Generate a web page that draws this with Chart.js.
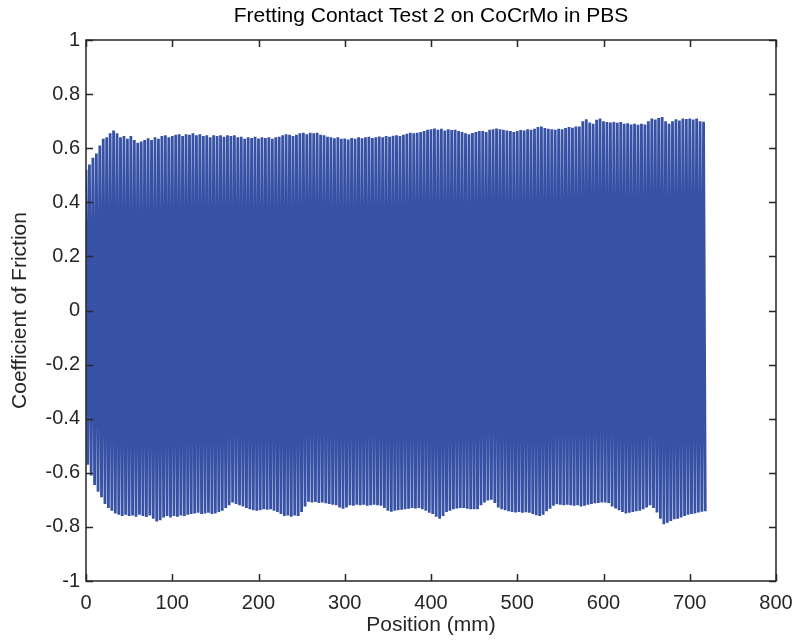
<!DOCTYPE html>
<html>
<head>
<meta charset="utf-8">
<title>Fretting Contact Test 2 on CoCrMo in PBS</title>
<script src="https://cdn.jsdelivr.net/npm/chart.js@4.4.1/dist/chart.umd.min.js"></script>
<style>
    html, body { margin: 0; padding: 0; background: #fff; }
    #wrap { width: 795px; height: 643px; }
</style>
</head>
<body>
<div id="wrap"><canvas id="frictionChart" width="795" height="643"></canvas></div>
<script>
// Position step between two reversals (mm) - peak at 4i, trough at 4i + 2
const cycleLength = 4;

// Peak (positive) friction coefficient for each cycle
const peakValues = [
    0.52, 0.54, 0.565, 0.58, 0.61, 0.635, 0.64, 0.655, 0.665, 0.655,
    0.64, 0.645, 0.635, 0.645, 0.63, 0.62, 0.625, 0.63, 0.637, 0.63,
    0.64, 0.635, 0.645, 0.648, 0.64, 0.645, 0.65, 0.652, 0.645, 0.652,
    0.65, 0.655, 0.648, 0.652, 0.645, 0.648, 0.64, 0.648, 0.645, 0.648,
    0.642, 0.648, 0.645, 0.648, 0.64, 0.642, 0.635, 0.64, 0.638, 0.642,
    0.636, 0.64, 0.638, 0.64, 0.635, 0.64, 0.642, 0.648, 0.652, 0.65,
    0.645, 0.65, 0.655, 0.657, 0.652, 0.657, 0.655, 0.657, 0.65, 0.648,
    0.642, 0.64, 0.637, 0.64, 0.635, 0.636, 0.632, 0.638, 0.635, 0.64,
    0.637, 0.64, 0.642, 0.638, 0.64, 0.643, 0.64, 0.645, 0.642, 0.646,
    0.648, 0.645, 0.65, 0.653, 0.657, 0.655, 0.657, 0.66, 0.664, 0.668,
    0.67, 0.673, 0.668, 0.672, 0.665, 0.67, 0.667, 0.668, 0.664, 0.66,
    0.655, 0.652, 0.656, 0.66, 0.664, 0.664, 0.66, 0.668, 0.67, 0.673,
    0.67, 0.668, 0.665, 0.664, 0.66, 0.664, 0.667, 0.665, 0.67, 0.668,
    0.672, 0.678, 0.68, 0.675, 0.672, 0.67, 0.668, 0.672, 0.67, 0.675,
    0.678, 0.676, 0.68, 0.68, 0.7, 0.707, 0.695, 0.69, 0.705, 0.71,
    0.7, 0.697, 0.695, 0.697, 0.694, 0.697, 0.69, 0.692, 0.688, 0.69,
    0.687, 0.69, 0.688, 0.7, 0.71, 0.706, 0.712, 0.715, 0.7, 0.69,
    0.7, 0.707, 0.702, 0.71, 0.708, 0.71, 0.706, 0.71, 0.7, 0.698
];

// Trough (negative) friction coefficient for each cycle
const troughValues = [
    -0.57, -0.61, -0.645, -0.67, -0.69, -0.715, -0.73, -0.74, -0.75, -0.755,
    -0.76, -0.755, -0.76, -0.758, -0.762, -0.755, -0.76, -0.763, -0.758, -0.77,
    -0.78, -0.775, -0.765, -0.76, -0.765, -0.76, -0.762, -0.758, -0.76, -0.755,
    -0.752, -0.75, -0.748, -0.752, -0.75, -0.748, -0.752, -0.75, -0.745, -0.74,
    -0.73, -0.72, -0.71, -0.715, -0.72, -0.725, -0.73, -0.735, -0.738, -0.74,
    -0.738, -0.735, -0.737, -0.735, -0.74, -0.745, -0.752, -0.76, -0.758, -0.762,
    -0.758, -0.76, -0.745, -0.725, -0.707, -0.71, -0.708, -0.712, -0.71, -0.713,
    -0.715, -0.718, -0.72, -0.728, -0.733, -0.728, -0.72, -0.722, -0.718, -0.72,
    -0.718, -0.722, -0.72, -0.718, -0.72, -0.722, -0.73, -0.74, -0.744, -0.74,
    -0.738, -0.737, -0.735, -0.733, -0.73, -0.732, -0.73, -0.735, -0.74, -0.748,
    -0.752, -0.762, -0.77, -0.76, -0.745, -0.74, -0.735, -0.732, -0.73, -0.73,
    -0.733, -0.735, -0.735, -0.735, -0.72, -0.71, -0.702, -0.7, -0.712, -0.728,
    -0.735, -0.738, -0.742, -0.745, -0.747, -0.745, -0.748, -0.746, -0.748, -0.752,
    -0.757, -0.76, -0.755, -0.742, -0.733, -0.722, -0.716, -0.718, -0.72, -0.718,
    -0.72, -0.722, -0.72, -0.725, -0.722, -0.718, -0.715, -0.713, -0.712, -0.71,
    -0.71, -0.712, -0.725, -0.732, -0.738, -0.745, -0.75, -0.748, -0.745, -0.742,
    -0.74, -0.735, -0.728, -0.72, -0.73, -0.747, -0.77, -0.79, -0.785, -0.778,
    -0.772, -0.77, -0.765, -0.76, -0.755, -0.752, -0.75, -0.747, -0.744, -0.742
];

// Axis ticks
const xTickValues = [0, 100, 200, 300, 400, 500, 600, 700, 800];
const yTickValues = [-1, -0.8, -0.6, -0.4, -0.2, 0, 0.2, 0.4, 0.6, 0.8, 1];
const yTickLabels = ['-1', '-0.8', '-0.6', '-0.4', '-0.2', '0', '0.2', '0.4', '0.6', '0.8', '1'];

const chartTitle = 'Fretting Contact Test 2 on CoCrMo in PBS';
const axisColor = '#262626';
const lineColor = 'rgb(55, 82, 165)';
const fontFamily = "'Liberation Sans', Arial, Helvetica, sans-serif";

// Build the zig-zag trace: one peak then one trough per cycle
const tracePoints = [];
peakValues.forEach(function(peak, i) {
    tracePoints.push({ x: i * cycleLength, y: peak });
    tracePoints.push({ x: i * cycleLength + cycleLength / 2, y: troughValues[i] });
});

// MATLAB style box with inward tick marks on all four sides,
// title centred over the axes rather than the whole canvas
const boxPlugin = {
    id: 'matlabBox',
    afterDatasetsDraw(chart) {
        const ctx = chart.ctx;
        const area = chart.chartArea;
        const xScale = chart.scales.x;
        const yScale = chart.scales.y;
        const tickLen = 7;

        ctx.save();
        ctx.strokeStyle = axisColor;
        ctx.lineWidth = 1.5;

        ctx.beginPath();
        xTickValues.forEach(function(v) {
            const px = Math.round(xScale.getPixelForValue(v)) + 0.5;
            ctx.moveTo(px, area.bottom);
            ctx.lineTo(px, area.bottom - tickLen);
            ctx.moveTo(px, area.top);
            ctx.lineTo(px, area.top + tickLen);
        });
        yTickValues.forEach(function(v) {
            const py = Math.round(yScale.getPixelForValue(v)) + 0.5;
            ctx.moveTo(area.left, py);
            ctx.lineTo(area.left + tickLen, py);
            ctx.moveTo(area.right, py);
            ctx.lineTo(area.right - tickLen, py);
        });
        ctx.stroke();

        ctx.strokeRect(area.left, area.top, area.right - area.left, area.bottom - area.top);

        ctx.fillStyle = '#000';
        ctx.font = '21px ' + fontFamily;
        ctx.textAlign = 'center';
        ctx.textBaseline = 'middle';
        ctx.fillText(chartTitle, (area.left + area.right) / 2, 16);
        ctx.restore();
    }
};

const ctx = document.getElementById('frictionChart').getContext('2d');

new Chart(ctx, {
    type: 'line',
    data: {
        datasets: [{
            data: tracePoints,
            borderColor: lineColor,
            borderWidth: 2.8,
            borderJoinStyle: 'bevel',
            pointRadius: 0,
            tension: 0,
            fill: false
        }]
    },
    options: {
        responsive: false,
        animation: false,
        layout: { padding: { left: 0, right: 19, top: 40, bottom: 0 } },
        plugins: {
            legend: { display: false },
            tooltip: { enabled: false },
            title: { display: false }
        },
        scales: {
            x: {
                type: 'linear',
                min: 0,
                max: 800,
                grid: { display: false, drawTicks: false },
                border: { display: false },
                afterBuildTicks: function(scale) {
                    scale.ticks = xTickValues.map(v => ({ value: v }));
                },
                afterFit: function(scale) {
                    scale.height = 62;
                    scale.paddingLeft = 0;
                    scale.paddingRight = 0;
                },
                ticks: {
                    color: axisColor,
                    padding: 10,
                    maxRotation: 0,
                    autoSkip: false,
                    font: { family: fontFamily, size: 20 },
                    callback: v => String(v)
                },
                title: {
                    display: true,
                    text: 'Position (mm)',
                    color: axisColor,
                    font: { family: fontFamily, size: 21 },
                    padding: { top: 0, bottom: 5 }
                }
            },
            y: {
                min: -1,
                max: 1,
                grid: { display: false, drawTicks: false },
                border: { display: false },
                afterBuildTicks: function(scale) {
                    scale.ticks = yTickValues.map(v => ({ value: v }));
                },
                afterFit: function(scale) {
                    scale.width = 86;
                    scale.paddingTop = 0;
                    scale.paddingBottom = 0;
                },
                ticks: {
                    color: axisColor,
                    padding: 6,
                    autoSkip: false,
                    font: { family: fontFamily, size: 20 },
                    callback: (v, i) => yTickLabels[i]
                },
                title: {
                    display: true,
                    text: 'Coefficient of Friction',
                    color: axisColor,
                    font: { family: fontFamily, size: 21 },
                    padding: { top: 8, bottom: 0 }
                }
            }
        }
    },
    plugins: [boxPlugin]
});
</script>
</body>
</html>
